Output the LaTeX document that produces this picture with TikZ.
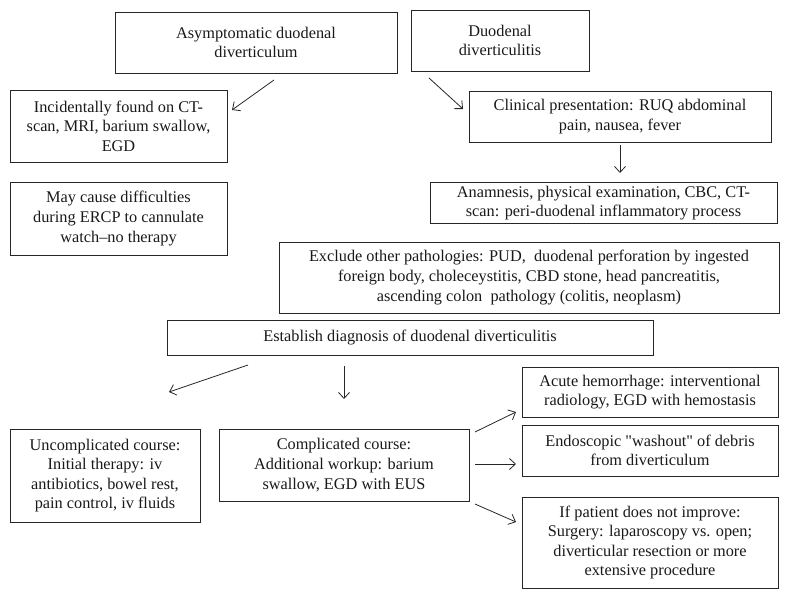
\documentclass[tikz,border=0pt]{standalone}
\usepackage{fontspec}
\setmainfont{Liberation Serif}
\usetikzlibrary{arrows.meta}

\begin{document}
\begin{tikzpicture}[x=1pt,y=-1pt,
  box/.style={draw=black!85, line width=0.8pt, align=center, inner sep=0pt,
    text=black!90, font=\fontsize{16.3}{19.6}\selectfont},
  flow/.style={draw=black!85, line width=0.8pt, -{Straight Barb[length=6pt,width=11pt,line width=0.8pt]}}]
\useasboundingbox (0,0) rectangle (788,600);
\node[box, minimum width=282, minimum height=61] (asym) at (256,42.5) {Asymptomatic duodenal\\diverticulum};
\node[box, minimum width=178, minimum height=61] (dd) at (500,40.5) {Duodenal\\diverticulitis};
\node[box, minimum width=217, minimum height=72] (inc) at (118.5,126) {Incidentally found on CT-\\scan, MRI, barium swallow,\\EGD};
\node[box, minimum width=217, minimum height=73] (may) at (118.5,218.5) {May cause difficulties\\during ERCP to cannulate\\watch--no therapy};
\node[box, minimum width=302, minimum height=51] (clin) at (620,116.5) {Clinical presentation: RUQ abdominal\\pain, nausea, fever};
\node[box, minimum width=347, minimum height=41] (anam) at (603.5,203) {Anamnesis, physical examination, CBC, CT-\\scan: peri-duodenal inflammatory process};
\node[box, minimum width=500, minimum height=71] (excl) at (529,277.5) {Exclude other pathologies: PUD,\ \ duodenal perforation by ingested\\foreign body, choleceystitis, CBD stone, head pancreatitis,\\ascending colon\ \ pathology (colitis, neoplasm)};
\node[box, minimum width=486, minimum height=35] (est) at (410,337.5) {Establish diagnosis of duodenal diverticulitis};
\node[box, minimum width=190, minimum height=93] (unc) at (105,475.5) {Uncomplicated course:\\Initial therapy: iv\\antibiotics, bowel rest,\\pain control, iv fluids};
\node[box, minimum width=250, minimum height=72] (comp) at (344,465) {Complicated course:\\Additional workup: barium\\swallow, EGD with EUS};
\node[box, minimum width=256, minimum height=50] (acute) at (650,392) {Acute hemorrhage: interventional\\radiology, EGD with hemostasis};
\node[box, minimum width=256, minimum height=51] (endo) at (650,450.5) {Endoscopic \textquotedbl washout\textquotedbl\ of debris\\from diverticulum};
\node[box, minimum width=256, minimum height=91] (ifp) at (650,542.5) {If patient does not improve:\\Surgery: laparoscopy vs. open;\\diverticular resection or more\\extensive procedure};

\coordinate (asym-o) at (274,80);
\coordinate (inc-i) at (232,110);
\coordinate (dd-o) at (429,78);
\coordinate (clin-i) at (463,109);
\coordinate (clin-o) at (620,145);
\coordinate (anam-i) at (620,173);
\coordinate (est-o1) at (248,365);
\coordinate (unc-i) at (169,392);
\coordinate (est-o2) at (344,366);
\coordinate (comp-i) at (344,399);
\coordinate (comp-o1) at (475,432);
\coordinate (acute-i) at (516,412);
\coordinate (comp-o2) at (475,464);
\coordinate (endo-i) at (516,464);
\coordinate (comp-o3) at (475,504);
\coordinate (ifp-i) at (516,522);

\draw[flow] (asym-o) -- (inc-i);
\draw[flow] (dd-o) -- (clin-i);
\draw[flow] (clin-o) -- (anam-i);
\draw[flow] (est-o1) -- (unc-i);
\draw[flow] (est-o2) -- (comp-i);
\draw[flow] (comp-o1) -- (acute-i);
\draw[flow] (comp-o2) -- (endo-i);
\draw[flow] (comp-o3) -- (ifp-i);
\end{tikzpicture}
\end{document}
